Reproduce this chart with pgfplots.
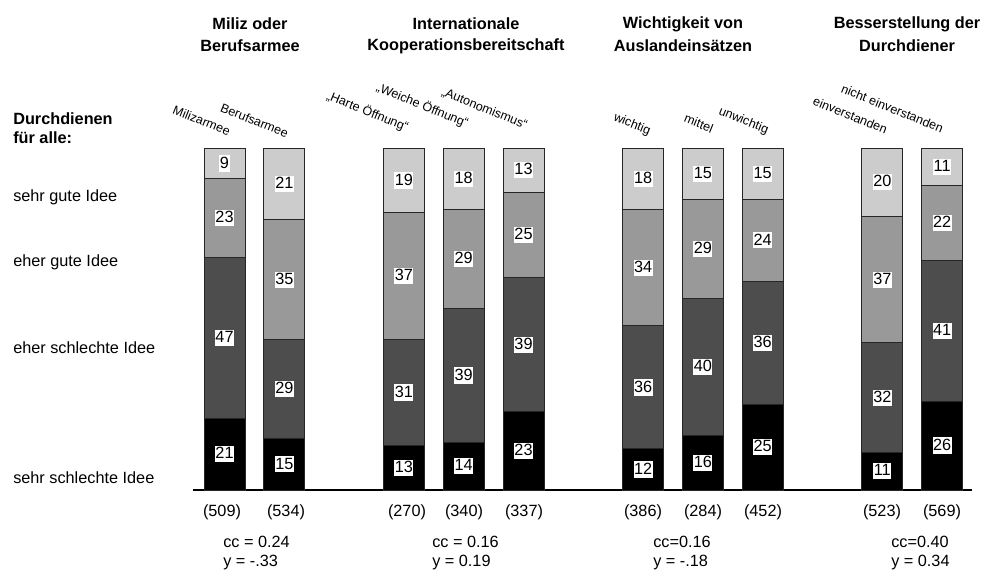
\documentclass[border=0pt]{standalone}
\usepackage{pgfplots}
\pgfplotsset{compat=1.18}
\usepackage{fontspec}
\setmainfont{Liberation Sans}
\definecolor{cdark}{HTML}{4D4D4D}
\definecolor{cmid}{HTML}{999999}
\definecolor{clight}{HTML}{CCCCCC}
\pgfplotsset{common/.style={
  at={(144.75pt,-367.5pt)}, anchor=south west,
  scale only axis, width=584.25pt, height=256.5pt,
  xmin=-0.527, xmax=12.5, ymin=0, ymax=100,
  hide axis, clip=false}}
\begin{document}
\begin{tikzpicture}[
  lbl/.style={fill=white, inner xsep=0.4pt, inner ysep=0.6pt, text height=9.0pt, text depth=2.0pt, font=\fontsize{12.2}{14}\selectfont},
  txt/.style={inner sep=0pt, font=\fontsize{12.2}{14}\selectfont},
  btxt/.style={inner sep=0pt, font=\fontsize{12.2}{14}\selectfont\bfseries},
  rtxt/.style={inner sep=0pt, rotate=-22, anchor=east, font=\fontsize{9.4}{11}\selectfont}
]
\begin{axis}[
  common,
  ybar stacked, bar width=30.75pt,
  every axis plot/.append style={draw=black!85, line width=0.75pt},
]
\addplot[fill=black] coordinates {(0,21) (1,15) (3,13) (4,14) (5,23) (7,12) (8,16) (9,25) (11,11) (12,26)};
\addplot[fill=cdark] coordinates {(0,47) (1,29) (3,31) (4,39) (5,39) (7,36) (8,40) (9,36) (11,32) (12,41)};
\addplot[fill=cmid] coordinates {(0,23) (1,35) (3,37) (4,29) (5,25) (7,34) (8,29) (9,24) (11,37) (12,22)};
\addplot[fill=clight] coordinates {(0,9) (1,21) (3,19) (4,18) (5,13) (7,18) (8,15) (9,15) (11,20) (12,11)};
\draw[black, line width=0.9pt] (axis cs:-0.527,0) -- (axis cs:12.5,0);
\end{axis}
\begin{axis}[common]
% value labels (segment centres)
\node[lbl] at (axis cs:0,10.5) {21};
\node[lbl] at (axis cs:0,44.5) {47};
\node[lbl] at (axis cs:0,79.5) {23};
\node[lbl] at (axis cs:0,95.5) {9};
\node[lbl] at (axis cs:1,7.5) {15};
\node[lbl] at (axis cs:1,29.5) {29};
\node[lbl] at (axis cs:1,61.5) {35};
\node[lbl] at (axis cs:1,89.5) {21};
\node[lbl] at (axis cs:3,6.5) {13};
\node[lbl] at (axis cs:3,28.5) {31};
\node[lbl] at (axis cs:3,62.5) {37};
\node[lbl] at (axis cs:3,90.5) {19};
\node[lbl] at (axis cs:4,7) {14};
\node[lbl] at (axis cs:4,33.5) {39};
\node[lbl] at (axis cs:4,67.5) {29};
\node[lbl] at (axis cs:4,91) {18};
\node[lbl] at (axis cs:5,11.5) {23};
\node[lbl] at (axis cs:5,42.5) {39};
\node[lbl] at (axis cs:5,74.5) {25};
\node[lbl] at (axis cs:5,93.5) {13};
\node[lbl] at (axis cs:7,6) {12};
\node[lbl] at (axis cs:7,30) {36};
\node[lbl] at (axis cs:7,65) {34};
\node[lbl] at (axis cs:7,91) {18};
\node[lbl] at (axis cs:8,8) {16};
\node[lbl] at (axis cs:8,36) {40};
\node[lbl] at (axis cs:8,70.5) {29};
\node[lbl] at (axis cs:8,92.5) {15};
\node[lbl] at (axis cs:9,12.5) {25};
\node[lbl] at (axis cs:9,43) {36};
\node[lbl] at (axis cs:9,73) {24};
\node[lbl] at (axis cs:9,92.5) {15};
\node[lbl] at (axis cs:11,5.5) {11};
\node[lbl] at (axis cs:11,27) {32};
\node[lbl] at (axis cs:11,61.5) {37};
\node[lbl] at (axis cs:11,90) {20};
\node[lbl] at (axis cs:12,13) {26};
\node[lbl] at (axis cs:12,46.5) {41};
\node[lbl] at (axis cs:12,78) {22};
\node[lbl] at (axis cs:12,94.5) {11};
\end{axis}
\begin{scope}[x=0.75pt,y=-0.75pt]
\path (0,0) rectangle (983,572);
% group titles
\node[btxt] at (250,24) {Miliz oder};
\node[btxt] at (250,46) {Berufsarmee};
\node[btxt] at (466,24) {Internationale};
\node[btxt] at (466,46) {Kooperationsbereitschaft};
\node[btxt] at (683,24) {Wichtigkeit von};
\node[btxt] at (683,46) {Auslandeinsätzen};
\node[btxt] at (907,24) {Besserstellung der};
\node[btxt] at (907,46) {Durchdiener};
% left labels
\node[btxt, anchor=west] at (13,119) {Durchdienen};
\node[btxt, anchor=west] at (13,138) {für alle:};
\node[txt, anchor=west] at (13,197) {sehr gute Idee};
\node[txt, anchor=west] at (13,262) {eher gute Idee};
\node[txt, anchor=west] at (13,348) {eher schlechte Idee};
\node[txt, anchor=west] at (13,478) {sehr schlechte Idee};
% rotated category labels
\node[rtxt] at (230,132) {Milizarmee};
\node[rtxt] at (288,134) {Berufsarmee};
\node[rtxt] at (408,128) {„Harte Öffnung“};
\node[rtxt] at (468,124) {„Weiche Öffnung“};
\node[rtxt] at (527,126) {„Autonomismus“};
\node[rtxt] at (650,132) {wichtig};
\node[rtxt] at (713,129) {mittel};
\node[rtxt] at (768,131) {unwichtig};
\node[rtxt] at (887,130) {einverstanden};
\node[rtxt] at (943,129) {nicht einverstanden};
% sample sizes
\node[txt] at (222,512) {(509)};
\node[txt] at (286,512) {(534)};
\node[txt] at (407,512) {(270)};
\node[txt] at (464,512) {(340)};
\node[txt] at (524,512) {(337)};
\node[txt] at (643,512) {(386)};
\node[txt] at (703,512) {(284)};
\node[txt] at (763,512) {(452)};
\node[txt] at (882,512) {(523)};
\node[txt] at (942,512) {(569)};
% coefficients
\node[txt, anchor=west] at (223,542) {cc = 0.24};
\node[txt, anchor=west] at (223,563) {y = -.33};
\node[txt, anchor=west] at (432,542) {cc = 0.16};
\node[txt, anchor=west] at (432,563) {y = 0.19};
\node[txt, anchor=west] at (653,542) {cc=0.16};
\node[txt, anchor=west] at (653,563) {y = -.18};
\node[txt, anchor=west] at (891,542) {cc=0.40};
\node[txt, anchor=west] at (891,563) {y = 0.34};
\end{scope}
\end{tikzpicture}
\end{document}
